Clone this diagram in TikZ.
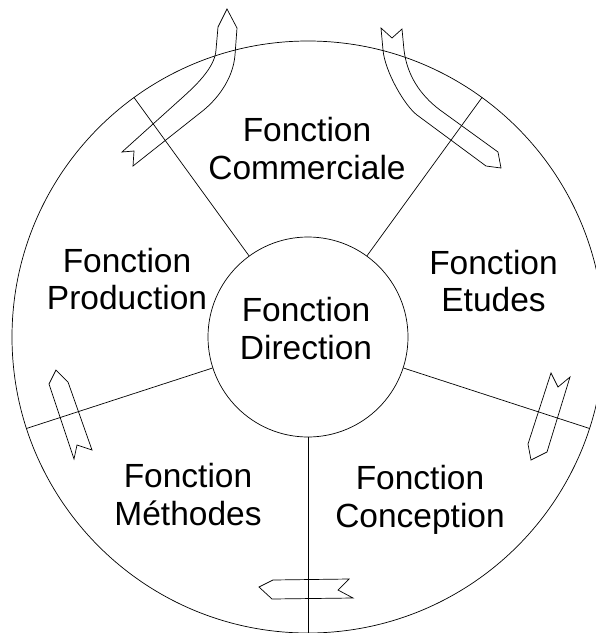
\documentclass[tikz,border=0pt]{standalone}
\usepackage{fontspec}
\setmainfont{Liberation Sans}
\begin{document}
\begin{tikzpicture}[x=1pt,y=-1pt,line width=0.7pt,
  ring/.style={draw,circle,inner sep=0pt},
  fonction/.style={align=center,anchor=north,inner sep=0pt,
    font=\fontsize{33.5}{37.5}\selectfont},
  ribbon/.style={draw,line join=miter}]
\useasboundingbox (0,0) rectangle (596,633);
\node[ring,minimum size=592pt] (rim) at (308,337) {};
\node[ring,minimum size=200pt] (dir) at (308,337) {};
\foreach \a in {54,126,198,270,342}
  \draw (dir.\a) -- (rim.\a);
\node[fonction] (direction) at (306,297) {Fonction\\Direction};
\node[fonction] (commerciale) at (307,117) {Fonction\\Commerciale};
\node[fonction] (production) at (127,247.5) {Fonction\\Production};
\node[fonction] (etudes) at (493.5,249.5) {Fonction\\Etudes};
\node[fonction] (methodes) at (188,463) {Fonction\\Méthodes};
\node[fonction] (conception) at (420,465) {Fonction\\Conception};
\draw[ribbon] (227,9) -- (237,28) -- (235,55) .. controls (233,80) and (216,101) .. (200,113)
  -- (133,166) -- (134,151) -- (122,152) -- (183,97) .. controls (194,87) and (215,68) .. (216,50)
  -- (218,27) -- cycle;
\draw[ribbon] (381,28) -- (392,38) -- (402,29) -- (404,50) .. controls (407,75) and (420,95) .. (440,110)
  -- (498,152) -- (501,168) -- (486,166) -- (417,115) .. controls (405,106) and (385,72) .. (383,50)
  -- cycle;
\draw[ribbon] (56,370) -- (68,382) -- (92,450) -- (77,445) -- (74,459) -- (49,384) -- cycle;
\draw[ribbon] (551,373) -- (558,387) -- (570,377) -- (547,452) -- (531,460) -- (528,444) -- cycle;
\draw[ribbon] (259,587) -- (273,580) -- (349,579) -- (338,590) -- (353,598) -- (272,599) -- cycle;
\end{tikzpicture}
\end{document}
